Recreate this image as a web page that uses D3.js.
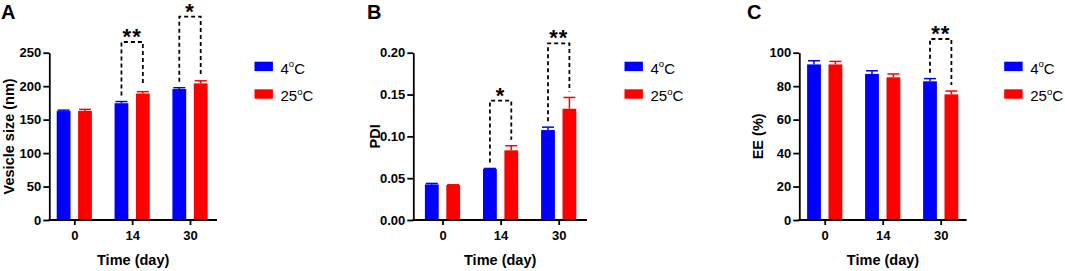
<!DOCTYPE html>
<html>
<head>
<meta charset="utf-8">
<script src="https://cdn.jsdelivr.net/npm/d3@7"></script>
<style>
  body { margin: 0; background: #fff; }
  svg { display: block; font-family: "Liberation Sans", Arial, sans-serif; }
</style>
</head>
<body>
<svg id="chart" width="1065" height="271"></svg>
<script>
// categories
const days = ["0", "14", "30"];
const seriesNames = ["4", "25"]; // temperatures, rendered as 4°C / 25°C

// A: vesicle size (nm)
const sizeCold = [162.8, 174.5, 195.7];
const sizeColdErr = [1.4, 2.5, 2.0];
const sizeWarm = [163.0, 189.0, 204.2];
const sizeWarmErr = [2.3, 2.8, 3.8];
const sizeTicks = [0, 50, 100, 150, 200, 250];

// B: PDI
const pdiCold = [0.0425, 0.061, 0.1075];
const pdiColdErr = [0.0012, 0.0006, 0.0035];
const pdiWarm = [0.0418, 0.0833, 0.133];
const pdiWarmErr = [0.0003, 0.0055, 0.0135];
const pdiTicks = [0, 0.05, 0.10, 0.15, 0.20];

// C: EE (%)
const eeCold = [93.0, 87.3, 82.9];
const eeColdErr = [2.2, 1.9, 1.6];
const eeWarm = [93.0, 85.3, 75.1];
const eeWarmErr = [1.8, 2.0, 2.0];
const eeTicks = [0, 20, 40, 60, 80, 100];

// significance brackets: day, label, bracket height (data units)
const sizeSig = [["14", "**", 266], ["30", "*", 304]];
const pdiSig = [["14", "*", 0.1426], ["30", "**", 0.2112]];
const eeSig = [["30", "**", 108.2]];

const colors = ["#0000ff", "#ff0000"];

const svg = d3.select("#chart");

const panels = [
  { letter: "A", lx: 1, axisX: 49.3, axisEnd: 217, first: 74.3, last: 190, ylab: "Vesicle size (nm)", ylx: 9,
    max: 250, ticks: sizeTicks, fmt: d3.format("d"),
    cold: sizeCold, coldErr: sizeColdErr, warm: sizeWarm, warmErr: sizeWarmErr, sig: sizeSig },
  { letter: "B", lx: 367, axisX: 413.3, axisEnd: 587, first: 442.5, last: 558.7, ylab: "PDI", ylx: 375,
    max: 0.2, ticks: pdiTicks, fmt: d3.format(".2f"),
    cold: pdiCold, coldErr: pdiColdErr, warm: pdiWarm, warmErr: pdiWarmErr, sig: pdiSig },
  { letter: "C", lx: 747, axisX: 799.3, axisEnd: 966.7, first: 824.7, last: 940.7, ylab: "EE (%)", ylx: 758,
    max: 100, ticks: eeTicks, fmt: d3.format("d"),
    cold: eeCold, coldErr: eeColdErr, warm: eeWarm, warmErr: eeWarmErr, sig: eeSig }
];

const yBottom = 220, yTop = 52.7;
const barW = 13.8, barOff = 10.7, capW = 12;
const legGap = 6;

panels.forEach(p => {
  const g = svg.append("g");

  const x = d3.scalePoint().domain(days).range([p.first, p.last]);
  const y = d3.scaleLinear().domain([0, p.max]).range([yBottom, yTop]);

  // bars
  const rows = days.map((d, i) => ({
    day: d,
    vals: [
      { s: 0, v: p.cold[i], e: p.coldErr[i] },
      { s: 1, v: p.warm[i], e: p.warmErr[i] }
    ]
  }));

  const grp = g.selectAll(".grp").data(rows).enter().append("g");
  const bar = grp.selectAll("g").data(r => r.vals.map(v => ({ ...v, day: r.day }))).enter().append("g");
  const cx = d => x(d.day) + (d.s === 0 ? -barOff : barOff);

  bar.append("rect")
    .attr("x", d => cx(d) - barW / 2)
    .attr("width", barW)
    .attr("y", d => y(d.v))
    .attr("height", d => yBottom - y(d.v))
    .attr("fill", d => colors[d.s]);

  bar.append("line")
    .attr("x1", cx).attr("x2", cx)
    .attr("y1", d => y(d.v)).attr("y2", d => y(d.v + d.e))
    .attr("stroke", d => colors[d.s]).attr("stroke-width", 1.5);
  bar.append("line")
    .attr("x1", d => cx(d) - capW / 2).attr("x2", d => cx(d) + capW / 2)
    .attr("y1", d => y(d.v + d.e)).attr("y2", d => y(d.v + d.e))
    .attr("stroke", d => colors[d.s]).attr("stroke-width", 1.5);

  // y axis
  const yAxis = g.append("g")
    .attr("transform", `translate(${p.axisX},0)`)
    .call(d3.axisLeft(y).tickValues(p.ticks).tickFormat(p.fmt).tickSize(6).tickPadding(2).tickSizeOuter(0));
  yAxis.select(".domain").attr("stroke-width", 1.8);
  yAxis.selectAll(".tick line").attr("stroke-width", 1.8);
  yAxis.selectAll("text").attr("font-size", 13).attr("font-weight", "bold").attr("fill", "#000");

  // x axis
  const xAxis = g.append("g")
    .attr("transform", `translate(0,${yBottom})`)
    .call(d3.axisBottom(x).tickSize(5).tickPadding(6));
  xAxis.select(".domain").remove();
  xAxis.append("line")
    .attr("x1", p.axisX - 0.9).attr("x2", p.axisEnd)
    .attr("stroke", "#000").attr("stroke-width", 1.8);
  xAxis.selectAll(".tick line").attr("stroke-width", 1.8);
  xAxis.selectAll("text").attr("font-size", 13).attr("font-weight", "bold").attr("fill", "#000");

  // axis titles
  g.append("text")
    .attr("x", (p.axisX + p.axisEnd) / 2)
    .attr("y", 265)
    .attr("text-anchor", "middle")
    .attr("font-size", 14.5).attr("font-weight", "bold")
    .text("Time (day)");

  g.append("text")
    .attr("transform", `translate(${p.ylx + 5},${(yBottom + yTop) / 2}) rotate(-90)`)
    .attr("text-anchor", "middle")
    .attr("font-size", 14.5).attr("font-weight", "bold")
    .text(p.ylab);

  // panel letter
  g.append("text")
    .attr("x", p.lx).attr("y", 19)
    .attr("font-size", 20).attr("font-weight", "bold")
    .text(p.letter);

  // significance brackets
  p.sig.forEach(([day, label, top]) => {
    const i = days.indexOf(day);
    const xl = x(day) - barOff, xr = x(day) + barOff;
    const yl = y(p.cold[i] + p.coldErr[i]) - legGap;
    const yr = y(p.warm[i] + p.warmErr[i]) - legGap;
    const yt = y(top);
    g.append("path")
      .attr("d", `M${xl},${yl}V${yt}H${xr}V${yr}`)
      .attr("fill", "none").attr("stroke", "#000")
      .attr("stroke-width", 1.8).attr("stroke-dasharray", "4,3");
    g.append("text")
      .attr("x", x(day)).attr("y", yt + 2)
      .attr("text-anchor", "middle")
      .attr("font-size", 22).attr("font-weight", "bold")
      .attr("letter-spacing", 1)
      .text(label);
  });

  // legend
  const leg = g.selectAll(".leg").data(seriesNames).enter().append("g")
    .attr("transform", (d, i) => `translate(${p.axisEnd + 37.5},${61.7 + i * 27.6})`);
  leg.append("rect").attr("width", 18.4).attr("height", 9.4).attr("fill", (d, i) => colors[i]);
  const lt = leg.append("text").attr("x", 26).attr("y", 12).attr("font-size", 15).attr("fill", "#000");
  lt.append("tspan").text(d => d);
  lt.append("tspan").attr("font-size", 9.5).attr("dy", -6.5).text("o");
  lt.append("tspan").attr("dy", 6.5).text("C");
});
</script>
</body>
</html>
